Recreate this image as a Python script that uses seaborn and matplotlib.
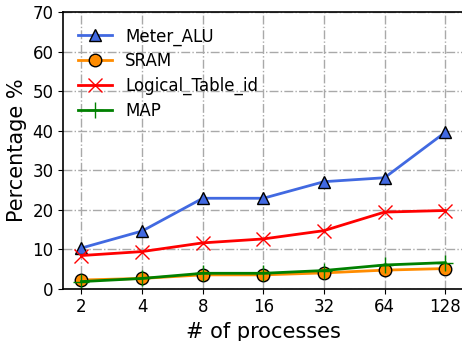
import matplotlib
matplotlib.use("Agg")
import matplotlib.pyplot as plt
import seaborn as sns
import numpy as np
import pandas as pd

processes = ["2", "4", "8", "16", "32", "64", "128"]
meter_alu = [10.3, 14.6, 22.9, 22.9, 27.1, 28.1, 39.6]
sram = [2.2, 2.6, 3.5, 3.5, 4.0, 4.7, 5.1]
logical_table_id = [8.4, 9.4, 11.6, 12.6, 14.7, 19.4, 19.8]
map_vals = [1.8, 2.6, 3.9, 3.9, 4.6, 6.0, 6.6]

series = [
    ("Meter_ALU", meter_alu, "royalblue", "^", dict(markerfacecolor="royalblue", markeredgecolor="black", markersize=9, markeredgewidth=1)),
    ("SRAM", sram, "darkorange", "o", dict(markerfacecolor="darkorange", markeredgecolor="black", markersize=9, markeredgewidth=1)),
    ("Logical_Table_id", logical_table_id, "red", "x", dict(markeredgecolor="red", markersize=10, markeredgewidth=1)),
    ("MAP", map_vals, "green", "+", dict(markeredgecolor="green", markersize=11, markeredgewidth=1)),
]

fig = plt.figure(figsize=(4.62, 3.41), dpi=100)
ax = fig.add_axes([0.137, 0.1534, 0.866, 0.8106])

pos = np.arange(len(processes))
for name, vals, color, marker, kw in series:
    df = pd.DataFrame({"x": pos, "y": vals})
    sns.lineplot(data=df, x="x", y="y", ax=ax, color=color, marker=marker,
                 linewidth=2, label=name, **kw)

ax.set_xlim(-0.3, 6.3)
ax.set_ylim(0, 70)
ax.set_xticks(pos)
ax.set_xticklabels(processes)
ax.set_yticks(np.arange(0, 71, 10))
ax.tick_params(axis="both", labelsize=12)
ax.set_xlabel("# of processes", fontsize=15)
ax.set_ylabel("Percentage %", fontsize=15)
ax.grid(True, linestyle="-.", color="darkgray", linewidth=1)
ax.set_axisbelow(True)
for s in ax.spines.values():
    s.set_linewidth(1.2)
ax.legend(loc="upper left", fontsize=12, frameon=False, labelspacing=0.4)

fig.savefig("out.png", dpi=100)
